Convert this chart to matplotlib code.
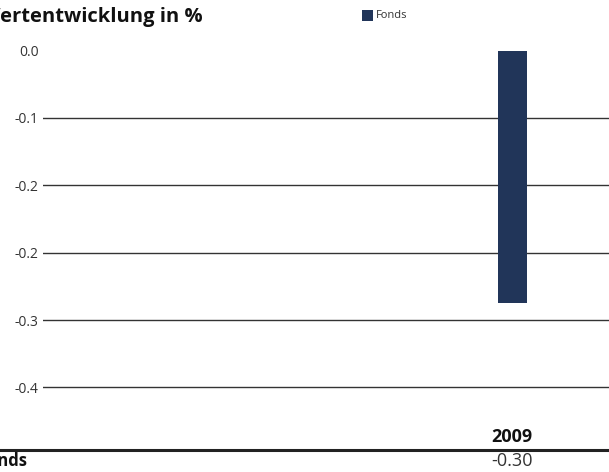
import matplotlib
matplotlib.use("Agg")
import matplotlib.pyplot as plt
from matplotlib.transforms import blended_transform_factory

plt.rcParams['font.family'] = ['Open Sans', 'DejaVu Sans']

categories = ["2009"]
series_name = "Fonds"
fonds_values = [-0.30]
value_labels = ["-0.30"]
ytick_values = [0.0, -0.08, -0.16, -0.24, -0.32, -0.40]
ytick_labels = ["0.0", "-0.1", "-0.2", "-0.2", "-0.3", "-0.4"]
title = "Wertentwicklung in %"

W, H = 609, 472
fig = plt.figure(figsize=(W / 100, H / 100), dpi=100)
ax_left, ax_right = 43, 609
ax_top, ax_bottom = 50.5, 420
ax = fig.add_axes([ax_left / W, 1 - ax_bottom / H, (ax_right - ax_left) / W, (ax_bottom - ax_top) / H])

bar_color = '#213559'
xs = list(range(len(categories)))
ax.bar(xs, fonds_values, width=0.5, color=bar_color, zorder=3)

ax.set_xlim(-8.09, 1.67)
ax.set_ylim(-0.4386, 0)
ax.set_yticks(ytick_values)
ax.set_yticklabels(ytick_labels)
ax.tick_params(axis='y', length=0, pad=3, labelsize=10, labelcolor='#333333')
ax.set_xticks([])
for s in ax.spines.values():
    s.set_visible(False)
ax.yaxis.grid(True, color='#333333', linewidth=1.0)
ax.get_ygridlines()[0].set_visible(False)
ax.set_axisbelow(True)

# title and legend
fig.text(-19 / W, 1 - 22 / H, title, fontsize=14.5, fontweight='bold', color='#111111',
         ha='left', va='baseline')
fig.patches.append(plt.Rectangle((362 / W, 1 - 21 / H), 11 / W, 11 / H, transform=fig.transFigure,
                                 facecolor=bar_color, edgecolor='none'))
fig.text(376 / W, 1 - 16 / H, series_name, fontsize=8, color='#333333', ha='left', va='center')

# table below
tr = blended_transform_factory(ax.transData, fig.transFigure)
for x, cat, lab in zip(xs, categories, value_labels):
    fig.text(x, 1 - 437 / H, cat, transform=tr, fontsize=13, fontweight='bold', color='#111111',
             ha='center', va='center')
    fig.text(x, 1 - 461 / H, lab, transform=tr, fontsize=13, color='#333333',
             ha='center', va='center')
fig.add_artist(plt.Line2D([0, 1], [1 - 450 / H, 1 - 450 / H], transform=fig.transFigure,
                          color='#222222', linewidth=2.2))
fig.text(-22 / W, 1 - 461 / H, series_name, fontsize=12, fontweight='bold', color='#111111',
         ha='left', va='center')

fig.savefig('out.png', dpi=100)
